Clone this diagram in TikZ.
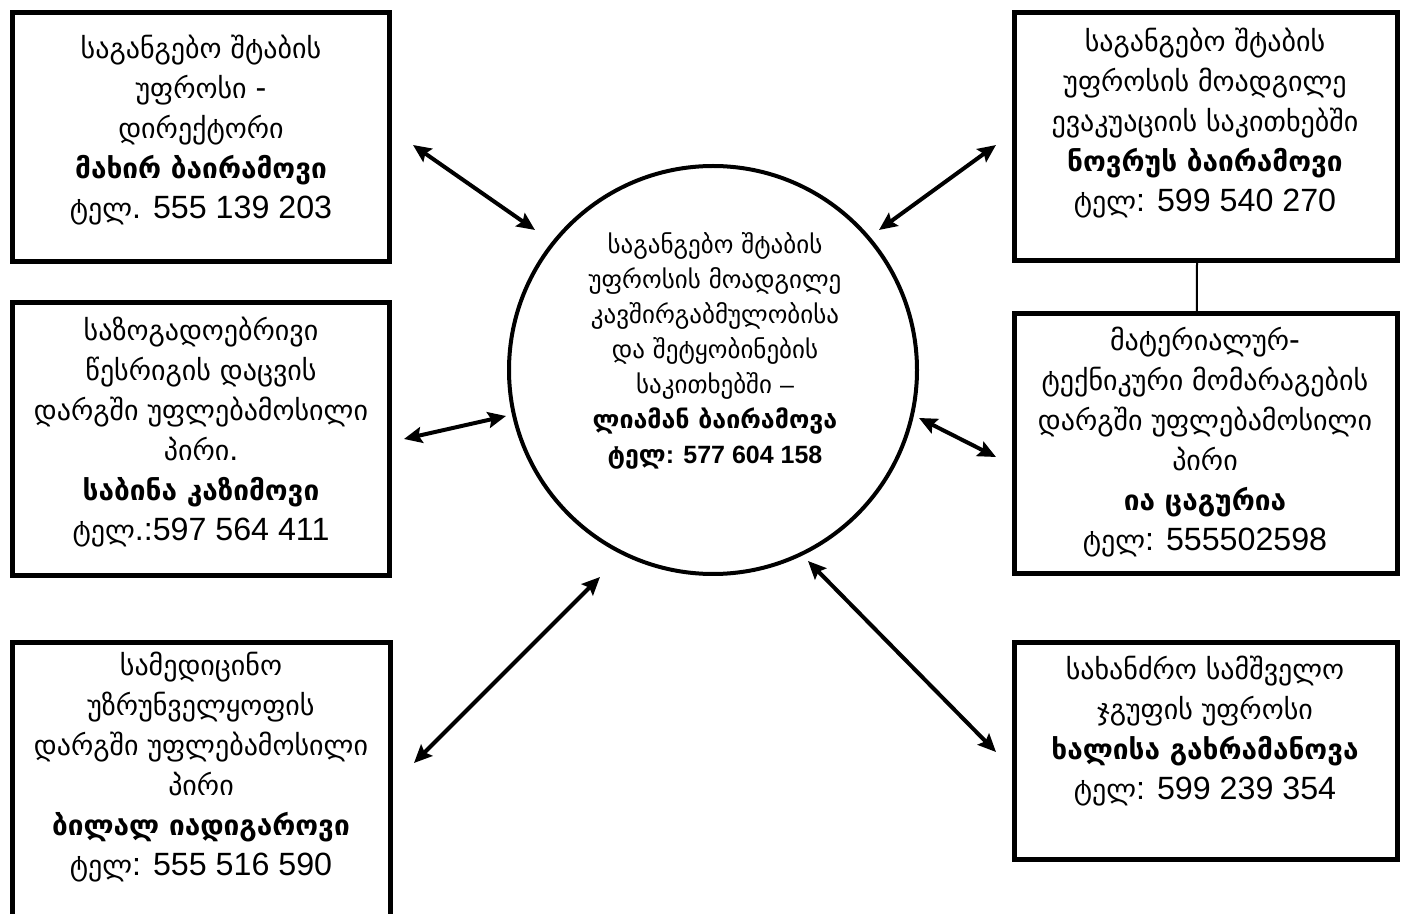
\documentclass[tikz,border=0pt]{standalone}
\usepackage{fontspec}
\usepackage{tikz}
\usetikzlibrary{arrows.meta,positioning}
\setmainfont{DejaVu Sans}
\newfontfamily\arial[Scale=1.15]{Liberation Sans}
\newfontfamily\arialhub{Liberation Sans}
\definecolor{ink}{HTML}{000000}

\begin{document}
\begin{tikzpicture}[x=0.5pt,y=-0.5pt,
  panel/.style={draw=ink,line width=2.5pt,inner sep=0pt},
  hub/.style={draw=ink,circle,line width=2pt,minimum size=204pt,inner sep=0pt},
  txt/.style={align=center,font=\fontsize{14}{20}\selectfont},
  hubtxt/.style={align=center,font=\fontsize{12.5}{17.5}\selectfont},
  link/.style={{Stealth[length=9pt,width=8pt,inset=1.5pt]}-{Stealth[length=9pt,width=8pt,inset=1.5pt]},line width=2pt,draw=ink},
  tie/.style={draw=ink,line width=1pt}]
  \useasboundingbox (0,0) rectangle (1404,914);
  \clip (0,0) rectangle (1404,914);

  % boxes
  \node[panel,minimum width=188.5pt,minimum height=124.5pt] (chief) at (201,137) {};
  \node[panel,minimum width=191.5pt,minimum height=124pt] (evac) at (1206,136.5) {};
  \node[panel,minimum width=188.5pt,minimum height=136.75pt] (order) at (201,439.25) {};
  \node[panel,minimum width=191.25pt,minimum height=130pt] (supply) at (1205.75,444) {};
  \node[panel,minimum width=189pt,minimum height=153.75pt] (medic) at (201.5,796.25) {};
  \node[panel,minimum width=191.5pt,minimum height=108.25pt] (rescue) at (1205.5,750.75) {};
  \node[hub] (comm) at (713,370) {};

  % texts
  \node[txt] (chief-t) at (201,130)
  {საგანგებო შტაბის\\უფროსი {\arial -}\\დირექტორი\\\textbf{მახირ ბაირამოვი}\\ტელ{\arial . 555 139 203}};
  \node[txt] (evac-t) at (1205,123.5)
  {საგანგებო შტაბის\\უფროსის მოადგილე\\ევაკუაციის საკითხებში\\\textbf{ნოვრუს ბაირამოვი}\\ტელ{\arial : 599 540 270}};
  \node[txt] (order-t) at (201,432.5)
  {საზოგადოებრივი\\წესრიგის დაცვის\\დარგში უფლებამოსილი\\პირი{\arial .}\\\textbf{საბინა კაზიმოვი}\\ტელ{\arial .:597 564 411}};
  \node[txt] (supply-t) at (1205,442)
  {მატერიალურ{\arial -}\\ტექნიკური მომარაგების\\დარგში უფლებამოსილი\\პირი\\\textbf{ია ცაგურია}\\ტელ{\arial : 555502598}};
  \node[txt] (medic-t) at (201,767)
  {სამედიცინო\\უზრუნველყოფის\\დარგში უფლებამოსილი\\პირი\\\textbf{ბილალ იადიგაროვი}\\ტელ{\arial : 555 516 590}};
  \node[txt] (rescue-t) at (1205,731.5)
  {სახანძრო სამშველო\\ჯგუფის უფროსი\\\textbf{ხალისა გახრამანოვა}\\ტელ{\arial : 599 239 354}};
  \node[hubtxt] (comm-t) at (715,351)
  {საგანგებო შტაბის\\უფროსის მოადგილე\\კავშირგაბმულობისა\\და შეტყობინების\\საკითხებში {\arialhub –}\\\textbf{ლიამან ბაირამოვა}\\\textbf{ტელ{\arialhub : 577 604 158}}};

  % arrow ends
  \coordinate (chief-a) at (413,145);  \coordinate (chief-b) at (535,230);
  \coordinate (evac-a) at (996,145);   \coordinate (evac-b) at (879,230);
  \coordinate (order-a) at (404,439);  \coordinate (order-b) at (506,416);
  \coordinate (supply-a) at (996,457); \coordinate (supply-b) at (919,418);
  \coordinate (medic-a) at (414,763);  \coordinate (medic-b) at (600,577);
  \coordinate (rescue-a) at (996,752); \coordinate (rescue-b) at (808,561);

  \draw[link] (chief-a) -- (chief-b);
  \draw[link] (evac-a) -- (evac-b);
  \draw[link] (order-a) -- (order-b);
  \draw[link] (supply-a) -- (supply-b);
  \draw[link] (medic-a) -- (medic-b);
  \draw[link] (rescue-a) -- (rescue-b);

  \draw[tie] ([xshift=-4.5pt]evac.south) -- ([xshift=-4.5pt]supply.north);
\end{tikzpicture}
\end{document}
